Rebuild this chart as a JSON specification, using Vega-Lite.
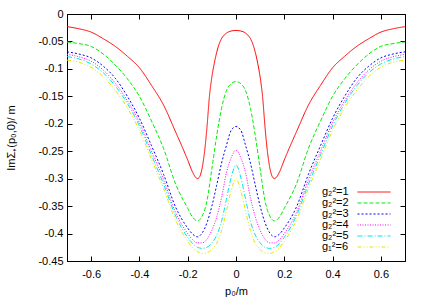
{
  "$schema": "https://vega.github.io/schema/vega-lite/v6.json",
  "width": 338,
  "height": 247,
  "autosize": {"type": "none"},
  "padding": {"left": 67, "top": 14, "right": 20, "bottom": 36},
  "background": "white",
  "config": {
    "font": "Liberation Sans",
    "view": {"stroke": "black", "strokeWidth": 1},
    "axis": {
      "domainColor": "black",
      "tickColor": "black",
      "tickSize": -5,
      "labelColor": "black",
      "labelFont": "Liberation Sans",
      "labelFontSize": 11,
      "titleFont": "Liberation Sans",
      "titleFontSize": 11,
      "titleFontWeight": "normal",
      "titleColor": "black",
      "grid": false
    },
    "legend": {
      "labelFont": "Liberation Sans", "labelFontSize": 11, "labelColor": "black",
      "rowPadding": 0, "padding": 0
    }
  },
  "data": {
    "values": [
      {"x": -0.70, "y": -0.023, "s": "g₂²=1"},
      {"x": -0.65, "y": -0.027, "s": "g₂²=1"},
      {"x": -0.60, "y": -0.033, "s": "g₂²=1"},
      {"x": -0.55, "y": -0.045, "s": "g₂²=1"},
      {"x": -0.50, "y": -0.059, "s": "g₂²=1"},
      {"x": -0.45, "y": -0.077, "s": "g₂²=1"},
      {"x": -0.40, "y": -0.098, "s": "g₂²=1"},
      {"x": -0.35, "y": -0.130, "s": "g₂²=1"},
      {"x": -0.30, "y": -0.166, "s": "g₂²=1"},
      {"x": -0.25, "y": -0.215, "s": "g₂²=1"},
      {"x": -0.22, "y": -0.245, "s": "g₂²=1"},
      {"x": -0.20, "y": -0.266, "s": "g₂²=1"},
      {"x": -0.18, "y": -0.288, "s": "g₂²=1"},
      {"x": -0.17, "y": -0.296, "s": "g₂²=1"},
      {"x": -0.16, "y": -0.300, "s": "g₂²=1"},
      {"x": -0.15, "y": -0.296, "s": "g₂²=1"},
      {"x": -0.14, "y": -0.280, "s": "g₂²=1"},
      {"x": -0.13, "y": -0.250, "s": "g₂²=1"},
      {"x": -0.12, "y": -0.205, "s": "g₂²=1"},
      {"x": -0.11, "y": -0.150, "s": "g₂²=1"},
      {"x": -0.10, "y": -0.115, "s": "g₂²=1"},
      {"x": -0.09, "y": -0.090, "s": "g₂²=1"},
      {"x": -0.08, "y": -0.070, "s": "g₂²=1"},
      {"x": -0.07, "y": -0.055, "s": "g₂²=1"},
      {"x": -0.06, "y": -0.045, "s": "g₂²=1"},
      {"x": -0.04, "y": -0.035, "s": "g₂²=1"},
      {"x": -0.02, "y": -0.031, "s": "g₂²=1"},
      {"x": 0.00, "y": -0.030, "s": "g₂²=1"},
      {"x": 0.02, "y": -0.031, "s": "g₂²=1"},
      {"x": 0.04, "y": -0.035, "s": "g₂²=1"},
      {"x": 0.06, "y": -0.045, "s": "g₂²=1"},
      {"x": 0.07, "y": -0.055, "s": "g₂²=1"},
      {"x": 0.08, "y": -0.070, "s": "g₂²=1"},
      {"x": 0.09, "y": -0.090, "s": "g₂²=1"},
      {"x": 0.10, "y": -0.115, "s": "g₂²=1"},
      {"x": 0.11, "y": -0.150, "s": "g₂²=1"},
      {"x": 0.12, "y": -0.205, "s": "g₂²=1"},
      {"x": 0.13, "y": -0.250, "s": "g₂²=1"},
      {"x": 0.14, "y": -0.280, "s": "g₂²=1"},
      {"x": 0.15, "y": -0.296, "s": "g₂²=1"},
      {"x": 0.16, "y": -0.300, "s": "g₂²=1"},
      {"x": 0.17, "y": -0.296, "s": "g₂²=1"},
      {"x": 0.18, "y": -0.288, "s": "g₂²=1"},
      {"x": 0.20, "y": -0.266, "s": "g₂²=1"},
      {"x": 0.22, "y": -0.245, "s": "g₂²=1"},
      {"x": 0.25, "y": -0.215, "s": "g₂²=1"},
      {"x": 0.30, "y": -0.166, "s": "g₂²=1"},
      {"x": 0.35, "y": -0.130, "s": "g₂²=1"},
      {"x": 0.40, "y": -0.098, "s": "g₂²=1"},
      {"x": 0.45, "y": -0.077, "s": "g₂²=1"},
      {"x": 0.50, "y": -0.059, "s": "g₂²=1"},
      {"x": 0.55, "y": -0.045, "s": "g₂²=1"},
      {"x": 0.60, "y": -0.033, "s": "g₂²=1"},
      {"x": 0.65, "y": -0.027, "s": "g₂²=1"},
      {"x": 0.70, "y": -0.023, "s": "g₂²=1"},

      {"x": -0.70, "y": -0.051, "s": "g₂²=2"},
      {"x": -0.65, "y": -0.054, "s": "g₂²=2"},
      {"x": -0.60, "y": -0.059, "s": "g₂²=2"},
      {"x": -0.55, "y": -0.073, "s": "g₂²=2"},
      {"x": -0.50, "y": -0.093, "s": "g₂²=2"},
      {"x": -0.45, "y": -0.118, "s": "g₂²=2"},
      {"x": -0.40, "y": -0.150, "s": "g₂²=2"},
      {"x": -0.35, "y": -0.195, "s": "g₂²=2"},
      {"x": -0.30, "y": -0.245, "s": "g₂²=2"},
      {"x": -0.25, "y": -0.310, "s": "g₂²=2"},
      {"x": -0.20, "y": -0.354, "s": "g₂²=2"},
      {"x": -0.18, "y": -0.370, "s": "g₂²=2"},
      {"x": -0.16, "y": -0.377, "s": "g₂²=2"},
      {"x": -0.14, "y": -0.368, "s": "g₂²=2"},
      {"x": -0.12, "y": -0.340, "s": "g₂²=2"},
      {"x": -0.10, "y": -0.282, "s": "g₂²=2"},
      {"x": -0.08, "y": -0.222, "s": "g₂²=2"},
      {"x": -0.06, "y": -0.172, "s": "g₂²=2"},
      {"x": -0.04, "y": -0.140, "s": "g₂²=2"},
      {"x": -0.02, "y": -0.127, "s": "g₂²=2"},
      {"x": 0.00, "y": -0.123, "s": "g₂²=2"},
      {"x": 0.02, "y": -0.127, "s": "g₂²=2"},
      {"x": 0.04, "y": -0.140, "s": "g₂²=2"},
      {"x": 0.06, "y": -0.172, "s": "g₂²=2"},
      {"x": 0.08, "y": -0.222, "s": "g₂²=2"},
      {"x": 0.10, "y": -0.282, "s": "g₂²=2"},
      {"x": 0.12, "y": -0.340, "s": "g₂²=2"},
      {"x": 0.14, "y": -0.368, "s": "g₂²=2"},
      {"x": 0.16, "y": -0.377, "s": "g₂²=2"},
      {"x": 0.18, "y": -0.370, "s": "g₂²=2"},
      {"x": 0.20, "y": -0.354, "s": "g₂²=2"},
      {"x": 0.25, "y": -0.310, "s": "g₂²=2"},
      {"x": 0.30, "y": -0.245, "s": "g₂²=2"},
      {"x": 0.35, "y": -0.195, "s": "g₂²=2"},
      {"x": 0.40, "y": -0.150, "s": "g₂²=2"},
      {"x": 0.45, "y": -0.118, "s": "g₂²=2"},
      {"x": 0.50, "y": -0.093, "s": "g₂²=2"},
      {"x": 0.55, "y": -0.073, "s": "g₂²=2"},
      {"x": 0.60, "y": -0.059, "s": "g₂²=2"},
      {"x": 0.65, "y": -0.054, "s": "g₂²=2"},
      {"x": 0.70, "y": -0.051, "s": "g₂²=2"},

      {"x": -0.70, "y": -0.069, "s": "g₂²=3"},
      {"x": -0.65, "y": -0.073, "s": "g₂²=3"},
      {"x": -0.60, "y": -0.080, "s": "g₂²=3"},
      {"x": -0.55, "y": -0.095, "s": "g₂²=3"},
      {"x": -0.50, "y": -0.117, "s": "g₂²=3"},
      {"x": -0.45, "y": -0.150, "s": "g₂²=3"},
      {"x": -0.40, "y": -0.190, "s": "g₂²=3"},
      {"x": -0.35, "y": -0.240, "s": "g₂²=3"},
      {"x": -0.30, "y": -0.292, "s": "g₂²=3"},
      {"x": -0.25, "y": -0.352, "s": "g₂²=3"},
      {"x": -0.20, "y": -0.390, "s": "g₂²=3"},
      {"x": -0.18, "y": -0.401, "s": "g₂²=3"},
      {"x": -0.16, "y": -0.406, "s": "g₂²=3"},
      {"x": -0.14, "y": -0.399, "s": "g₂²=3"},
      {"x": -0.12, "y": -0.380, "s": "g₂²=3"},
      {"x": -0.10, "y": -0.350, "s": "g₂²=3"},
      {"x": -0.08, "y": -0.312, "s": "g₂²=3"},
      {"x": -0.06, "y": -0.272, "s": "g₂²=3"},
      {"x": -0.04, "y": -0.240, "s": "g₂²=3"},
      {"x": -0.02, "y": -0.212, "s": "g₂²=3"},
      {"x": 0.00, "y": -0.205, "s": "g₂²=3"},
      {"x": 0.02, "y": -0.212, "s": "g₂²=3"},
      {"x": 0.04, "y": -0.240, "s": "g₂²=3"},
      {"x": 0.06, "y": -0.272, "s": "g₂²=3"},
      {"x": 0.08, "y": -0.312, "s": "g₂²=3"},
      {"x": 0.10, "y": -0.350, "s": "g₂²=3"},
      {"x": 0.12, "y": -0.380, "s": "g₂²=3"},
      {"x": 0.14, "y": -0.399, "s": "g₂²=3"},
      {"x": 0.16, "y": -0.406, "s": "g₂²=3"},
      {"x": 0.18, "y": -0.401, "s": "g₂²=3"},
      {"x": 0.20, "y": -0.390, "s": "g₂²=3"},
      {"x": 0.25, "y": -0.352, "s": "g₂²=3"},
      {"x": 0.30, "y": -0.292, "s": "g₂²=3"},
      {"x": 0.35, "y": -0.240, "s": "g₂²=3"},
      {"x": 0.40, "y": -0.190, "s": "g₂²=3"},
      {"x": 0.45, "y": -0.150, "s": "g₂²=3"},
      {"x": 0.50, "y": -0.117, "s": "g₂²=3"},
      {"x": 0.55, "y": -0.095, "s": "g₂²=3"},
      {"x": 0.60, "y": -0.080, "s": "g₂²=3"},
      {"x": 0.65, "y": -0.073, "s": "g₂²=3"},
      {"x": 0.70, "y": -0.069, "s": "g₂²=3"},

      {"x": -0.70, "y": -0.0735, "s": "g₂²=4"},
      {"x": -0.65, "y": -0.078, "s": "g₂²=4"},
      {"x": -0.60, "y": -0.086, "s": "g₂²=4"},
      {"x": -0.55, "y": -0.102, "s": "g₂²=4"},
      {"x": -0.50, "y": -0.126, "s": "g₂²=4"},
      {"x": -0.45, "y": -0.158, "s": "g₂²=4"},
      {"x": -0.40, "y": -0.198, "s": "g₂²=4"},
      {"x": -0.35, "y": -0.250, "s": "g₂²=4"},
      {"x": -0.30, "y": -0.302, "s": "g₂²=4"},
      {"x": -0.25, "y": -0.362, "s": "g₂²=4"},
      {"x": -0.20, "y": -0.400, "s": "g₂²=4"},
      {"x": -0.18, "y": -0.411, "s": "g₂²=4"},
      {"x": -0.16, "y": -0.417, "s": "g₂²=4"},
      {"x": -0.14, "y": -0.417, "s": "g₂²=4"},
      {"x": -0.12, "y": -0.410, "s": "g₂²=4"},
      {"x": -0.10, "y": -0.394, "s": "g₂²=4"},
      {"x": -0.08, "y": -0.370, "s": "g₂²=4"},
      {"x": -0.06, "y": -0.335, "s": "g₂²=4"},
      {"x": -0.04, "y": -0.290, "s": "g₂²=4"},
      {"x": -0.02, "y": -0.262, "s": "g₂²=4"},
      {"x": 0.00, "y": -0.248, "s": "g₂²=4"},
      {"x": 0.02, "y": -0.262, "s": "g₂²=4"},
      {"x": 0.04, "y": -0.290, "s": "g₂²=4"},
      {"x": 0.06, "y": -0.335, "s": "g₂²=4"},
      {"x": 0.08, "y": -0.370, "s": "g₂²=4"},
      {"x": 0.10, "y": -0.394, "s": "g₂²=4"},
      {"x": 0.12, "y": -0.410, "s": "g₂²=4"},
      {"x": 0.14, "y": -0.417, "s": "g₂²=4"},
      {"x": 0.16, "y": -0.417, "s": "g₂²=4"},
      {"x": 0.18, "y": -0.411, "s": "g₂²=4"},
      {"x": 0.20, "y": -0.400, "s": "g₂²=4"},
      {"x": 0.25, "y": -0.362, "s": "g₂²=4"},
      {"x": 0.30, "y": -0.302, "s": "g₂²=4"},
      {"x": 0.35, "y": -0.250, "s": "g₂²=4"},
      {"x": 0.40, "y": -0.198, "s": "g₂²=4"},
      {"x": 0.45, "y": -0.158, "s": "g₂²=4"},
      {"x": 0.50, "y": -0.126, "s": "g₂²=4"},
      {"x": 0.55, "y": -0.102, "s": "g₂²=4"},
      {"x": 0.60, "y": -0.086, "s": "g₂²=4"},
      {"x": 0.65, "y": -0.078, "s": "g₂²=4"},
      {"x": 0.70, "y": -0.0735, "s": "g₂²=4"},

      {"x": -0.70, "y": -0.0777, "s": "g₂²=5"},
      {"x": -0.65, "y": -0.082, "s": "g₂²=5"},
      {"x": -0.60, "y": -0.091, "s": "g₂²=5"},
      {"x": -0.55, "y": -0.107, "s": "g₂²=5"},
      {"x": -0.50, "y": -0.131, "s": "g₂²=5"},
      {"x": -0.45, "y": -0.163, "s": "g₂²=5"},
      {"x": -0.40, "y": -0.204, "s": "g₂²=5"},
      {"x": -0.35, "y": -0.257, "s": "g₂²=5"},
      {"x": -0.30, "y": -0.310, "s": "g₂²=5"},
      {"x": -0.25, "y": -0.368, "s": "g₂²=5"},
      {"x": -0.20, "y": -0.407, "s": "g₂²=5"},
      {"x": -0.18, "y": -0.418, "s": "g₂²=5"},
      {"x": -0.16, "y": -0.425, "s": "g₂²=5"},
      {"x": -0.14, "y": -0.427, "s": "g₂²=5"},
      {"x": -0.12, "y": -0.425, "s": "g₂²=5"},
      {"x": -0.10, "y": -0.417, "s": "g₂²=5"},
      {"x": -0.08, "y": -0.403, "s": "g₂²=5"},
      {"x": -0.06, "y": -0.378, "s": "g₂²=5"},
      {"x": -0.04, "y": -0.338, "s": "g₂²=5"},
      {"x": -0.02, "y": -0.298, "s": "g₂²=5"},
      {"x": 0.00, "y": -0.275, "s": "g₂²=5"},
      {"x": 0.02, "y": -0.298, "s": "g₂²=5"},
      {"x": 0.04, "y": -0.338, "s": "g₂²=5"},
      {"x": 0.06, "y": -0.378, "s": "g₂²=5"},
      {"x": 0.08, "y": -0.403, "s": "g₂²=5"},
      {"x": 0.10, "y": -0.417, "s": "g₂²=5"},
      {"x": 0.12, "y": -0.425, "s": "g₂²=5"},
      {"x": 0.14, "y": -0.427, "s": "g₂²=5"},
      {"x": 0.16, "y": -0.425, "s": "g₂²=5"},
      {"x": 0.18, "y": -0.418, "s": "g₂²=5"},
      {"x": 0.20, "y": -0.407, "s": "g₂²=5"},
      {"x": 0.25, "y": -0.368, "s": "g₂²=5"},
      {"x": 0.30, "y": -0.310, "s": "g₂²=5"},
      {"x": 0.35, "y": -0.257, "s": "g₂²=5"},
      {"x": 0.40, "y": -0.204, "s": "g₂²=5"},
      {"x": 0.45, "y": -0.163, "s": "g₂²=5"},
      {"x": 0.50, "y": -0.131, "s": "g₂²=5"},
      {"x": 0.55, "y": -0.107, "s": "g₂²=5"},
      {"x": 0.60, "y": -0.091, "s": "g₂²=5"},
      {"x": 0.65, "y": -0.082, "s": "g₂²=5"},
      {"x": 0.70, "y": -0.0777, "s": "g₂²=5"},

      {"x": -0.70, "y": -0.084, "s": "g₁²=6"},
      {"x": -0.65, "y": -0.088, "s": "g₁²=6"},
      {"x": -0.60, "y": -0.097, "s": "g₁²=6"},
      {"x": -0.55, "y": -0.114, "s": "g₁²=6"},
      {"x": -0.50, "y": -0.139, "s": "g₁²=6"},
      {"x": -0.45, "y": -0.171, "s": "g₁²=6"},
      {"x": -0.40, "y": -0.212, "s": "g₁²=6"},
      {"x": -0.35, "y": -0.265, "s": "g₁²=6"},
      {"x": -0.30, "y": -0.318, "s": "g₁²=6"},
      {"x": -0.25, "y": -0.376, "s": "g₁²=6"},
      {"x": -0.20, "y": -0.414, "s": "g₁²=6"},
      {"x": -0.18, "y": -0.426, "s": "g₁²=6"},
      {"x": -0.16, "y": -0.433, "s": "g₁²=6"},
      {"x": -0.14, "y": -0.436, "s": "g₁²=6"},
      {"x": -0.12, "y": -0.435, "s": "g₁²=6"},
      {"x": -0.10, "y": -0.429, "s": "g₁²=6"},
      {"x": -0.08, "y": -0.418, "s": "g₁²=6"},
      {"x": -0.06, "y": -0.395, "s": "g₁²=6"},
      {"x": -0.04, "y": -0.360, "s": "g₁²=6"},
      {"x": -0.02, "y": -0.322, "s": "g₁²=6"},
      {"x": 0.00, "y": -0.300, "s": "g₁²=6"},
      {"x": 0.02, "y": -0.322, "s": "g₁²=6"},
      {"x": 0.04, "y": -0.360, "s": "g₁²=6"},
      {"x": 0.06, "y": -0.395, "s": "g₁²=6"},
      {"x": 0.08, "y": -0.418, "s": "g₁²=6"},
      {"x": 0.10, "y": -0.429, "s": "g₁²=6"},
      {"x": 0.12, "y": -0.435, "s": "g₁²=6"},
      {"x": 0.14, "y": -0.436, "s": "g₁²=6"},
      {"x": 0.16, "y": -0.433, "s": "g₁²=6"},
      {"x": 0.18, "y": -0.426, "s": "g₁²=6"},
      {"x": 0.20, "y": -0.414, "s": "g₁²=6"},
      {"x": 0.25, "y": -0.376, "s": "g₁²=6"},
      {"x": 0.30, "y": -0.318, "s": "g₁²=6"},
      {"x": 0.35, "y": -0.265, "s": "g₁²=6"},
      {"x": 0.40, "y": -0.212, "s": "g₁²=6"},
      {"x": 0.45, "y": -0.171, "s": "g₁²=6"},
      {"x": 0.50, "y": -0.139, "s": "g₁²=6"},
      {"x": 0.55, "y": -0.114, "s": "g₁²=6"},
      {"x": 0.60, "y": -0.097, "s": "g₁²=6"},
      {"x": 0.65, "y": -0.088, "s": "g₁²=6"},
      {"x": 0.70, "y": -0.084, "s": "g₁²=6"}
    ]
  },
  "layer": [
    {
      "mark": {"type": "line", "strokeWidth": 1, "interpolate": "monotone", "clip": true},
      "encoding": {
        "x": {
          "field": "x", "type": "quantitative",
          "scale": {"domain": [-0.7, 0.7], "nice": false, "zero": false},
          "axis": {
            "orient": "bottom",
            "values": [-0.6, -0.4, -0.2, 0, 0.2, 0.4, 0.6],
            "format": "~g",
            "labelExpr": "replace(datum.label, '−', '-')",
            "labelPadding": 12,
            "title": "p₀/m",
            "titleY": 33,
            "titleBaseline": "alphabetic"
          }
        },
        "y": {
          "field": "y", "type": "quantitative",
          "scale": {"domain": [-0.45, 0], "nice": false, "zero": false},
          "axis": {
            "orient": "left",
            "values": [-0.45, -0.4, -0.35, -0.3, -0.25, -0.2, -0.15, -0.1, -0.05, 0],
            "format": "~g",
            "labelExpr": "replace(datum.label, '−', '-')",
            "labelPadding": 9,
            "title": "ImΣ₊(p₀,0)/ m",
            "titleX": -56,
            "titleY": 123.5,
            "titleAngle": 270,
            "titleAlign": "center",
            "titleBaseline": "middle"
          }
        },
        "color": {
          "field": "s", "type": "nominal",
          "scale": {
            "domain": ["g₂²=1", "g₂²=2", "g₂²=3", "g₂²=4", "g₂²=5", "g₁²=6"],
            "range": ["#ff0000", "#00ee00", "#0000ff", "#ff00ff", "#00e5e5", "#e5e500"]
          },
          "legend": {
            "title": null, "orient": "none", "legendX": 255, "legendY": 172,
            "symbolType": "M-3,0L3,0", "symbolSize": 121, "symbolStrokeWidth": 1,
            "symbolOffset": 46, "labelOffset": -58
          }
        },
        "strokeDash": {
          "field": "s", "type": "nominal",
          "scale": {
            "domain": ["g₂²=1", "g₂²=2", "g₂²=3", "g₂²=4", "g₂²=5", "g₁²=6"],
            "range": [[1, 0], [4, 2], [2, 2], [1, 1.5], [5, 2, 1, 2], [4, 2, 1, 2, 1, 2]]
          },
          "legend": {
            "title": null, "orient": "none", "legendX": 255, "legendY": 172,
            "symbolType": "M-3,0L3,0", "symbolSize": 121, "symbolStrokeWidth": 1,
            "symbolOffset": 46, "labelOffset": -58
          }
        }
      }
    },
    {
      "mark": {"type": "point", "opacity": 0},
      "encoding": {
        "x": {
          "field": "x", "type": "quantitative",
          "axis": {"orient": "top", "values": [-0.6, -0.4, -0.2, 0, 0.2, 0.4, 0.6], "labels": false, "title": null}
        },
        "y": {
          "field": "y", "type": "quantitative",
          "axis": {"orient": "right", "values": [-0.45, -0.4, -0.35, -0.3, -0.25, -0.2, -0.15, -0.1, -0.05, 0], "labels": false, "title": null}
        }
      }
    }
  ],
  "resolve": {"axis": {"x": "independent", "y": "independent"}}
}
